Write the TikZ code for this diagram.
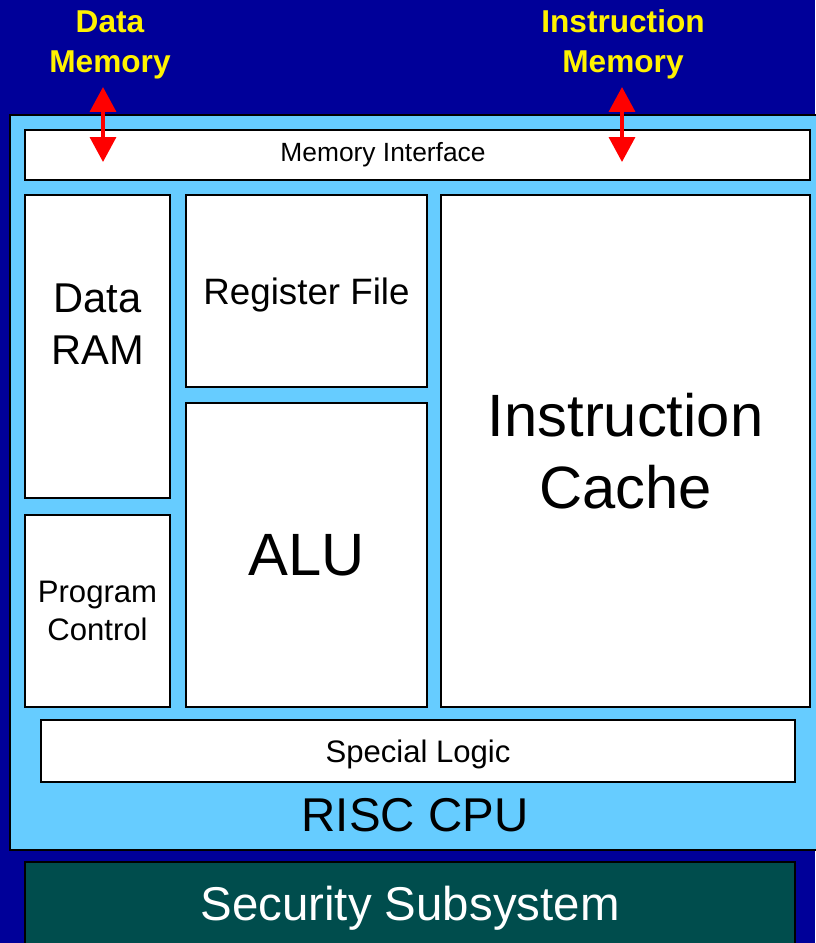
\documentclass[tikz,border=0pt]{standalone}
\usepackage{fontspec}
\setmainfont{Liberation Sans}
\usepackage{xcolor}
\usetikzlibrary{positioning,arrows.meta,calc}

\definecolor{navybg}{RGB}{0,0,153}
\definecolor{cpublue}{RGB}{102,204,255}
\definecolor{secteal}{RGB}{0,77,77}

\begin{document}
\begin{tikzpicture}[
    x=0.02cm, y=-0.02cm,
    block/.style={draw, fill=white, line width=1pt, inner sep=0pt, align=center},
    memlabel/.style={text=yellow, font=\fontsize{18}{22.7}\selectfont\bfseries, align=center},
    bus/.style={{Triangle[length=0.5cm,width=0.52cm]}-{Triangle[length=0.5cm,width=0.52cm]}, red, line width=2pt},
    >=Stealth
]

% Background
\fill[navybg] (0,0) rectangle (815,943);
\useasboundingbox (0,0) rectangle (815,943);

% CPU container
\draw[fill=cpublue, line width=0.8pt] (10,115) rectangle (822,850);
\node[font=\fontsize{27}{32}\selectfont] (cpulabel) at (415,815) {RISC CPU};

% Blocks inside the CPU
\node[block, minimum width=15.7cm, minimum height=1.0cm] (memif) at (417.5,155) {};
\node[font=\fontsize{15}{18}\selectfont] (memiftxt) at (383,154.5) {Memory Interface};
\node[block, minimum width=2.9cm, minimum height=6.06cm] (dataram) at (97.5,346.5) {};
\node[align=center, font=\fontsize{23.7}{29.5}\selectfont] (dataramtxt) at (97.5,324) {Data\\RAM};
\node[block, minimum width=2.9cm, minimum height=3.84cm, font=\fontsize{17.7}{21.5}\selectfont] (progctrl) at (97.5,611) {Program\\Control};
\node[block, minimum width=4.82cm, minimum height=3.84cm, text depth=0pt, font=\fontsize{20.9}{25}\selectfont] (regfile) at (306.5,291) {Register File};
\node[block, minimum width=4.82cm, minimum height=6.08cm, font=\fontsize{34}{40.8}\selectfont] (alu) at (306.5,555) {ALU};
\node[block, minimum width=7.38cm, minimum height=10.24cm, font=\fontsize{34}{40.8}\selectfont] (icache) at (625.5,451) {Instruction\\Cache};
\node[block, minimum width=15.08cm, minimum height=1.24cm, text depth=0pt, font=\fontsize{17.7}{21}\selectfont] (special) at (418,751) {Special Logic};

% Security subsystem
\node[draw, fill=secteal, line width=0.8pt, minimum width=15.4cm, minimum height=1.84cm, inner sep=0pt,
      text=white, font=\fontsize{27}{32}\selectfont] (security) at (410,908) {Security Subsystem};

% External memories
\node[memlabel] (datamem) at (110,45) {Data\\Memory};
\node[memlabel] (instmem) at (623,44) {Instruction\\Memory};

\coordinate (dmtop) at (103,87);
\coordinate (dmbot) at (103,162);
\coordinate (imtop) at (622,87);
\coordinate (imbot) at (622,162);
\draw[bus] (dmtop) -- (dmbot);
\draw[bus] (imtop) -- (imbot);

\end{tikzpicture}
\end{document}
